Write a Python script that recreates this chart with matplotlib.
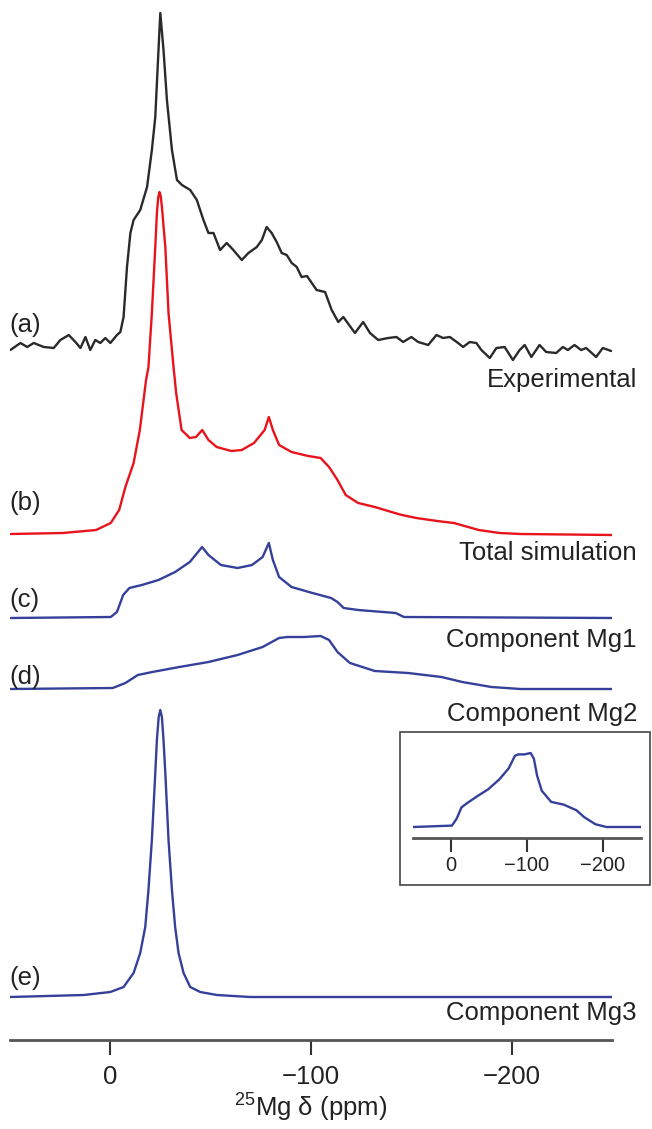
import matplotlib.pyplot as plt
from matplotlib.patches import Rectangle

plt.rcParams['font.family'] = ['Liberation Sans', 'DejaVu Sans']
plt.rcParams['mathtext.fontset'] = 'custom'
plt.rcParams['mathtext.rm'] = 'Liberation Sans'

# ---- data (ppm, intensity in arbitrary units) ----
exp_ppm = [49.8, 44.8, 41.4, 38.2, 33.2, 28.2, 24.9, 20.7, 17.4, 14.9, 12.4, 10.0, 7.5, 5.0,
           2.5, 0.0, -3.3, -5.0, -6.6, -8.3, -10.0, -11.6, -14.9, -18.3, -20.7, -22.4, -24.0,
           -24.9, -26.5, -28.2, -30.7, -33.2, -35.7, -39.8, -43.1, -46.4, -48.9, -51.4, -54.7,
           -58.0, -61.3, -65.5, -68.8, -73.0, -75.5, -77.9, -80.4, -82.9, -85.4, -87.9, -90.4,
           -92.9, -95.3, -98.0, -102.8, -107.0, -110.3, -113.6, -116.1, -121.9, -126.0, -129.4,
           -133.5, -138.5, -142.6, -145.9, -150.0, -153.4, -158.4, -162.5, -165.8, -169.2,
           -173.3, -175.8, -179.1, -182.4, -184.9, -189.1, -192.4, -196.5, -200.6, -204.0,
           -206.5, -209.8, -213.9, -217.2, -222.2, -225.5, -228.0, -231.3, -234.6, -237.1,
           -242.1, -245.4, -249.6]
exp_int = [-2, 5, 1, 5, 1, 0, 8, 13, 6, 0, 11, -2, 8, 5,
           10, 5, 13, 16, 31, 81, 115, 128, 138, 161, 198, 231, 298,
           335, 298, 248, 198, 168, 163, 158, 148, 128, 115, 115, 98,
           105, 98, 88, 95, 101, 108, 121, 115, 106, 95, 93, 85,
           81, 71, 72, 58, 56, 38, 26, 31, 15, 26, 15,
           8, 10, 11, 6, 11, 6, 3, 13, 10, 11,
           5, 1, 6, 5, -2, -10, 0, 1, -12, -2,
           3, -9, 3, -4, -5, 1, -2, 3, -2, 0,
           -9, 0, -3]

tot_ppm = [49.6, 23.6, 7.1, -0.2, -4.4, -7.5, -11.6, -14.7, -17.8, -19.0, -20.7, -22.4, -23.2,
           -23.9, -24.5, -25.1, -25.7, -27.4, -29.0, -31.5, -32.8, -35.5, -39.6, -42.7, -45.8,
           -48.9, -53.0, -60.3, -65.5, -71.6, -76.9, -79.0, -81.0, -84.1, -90.3, -98.6, -104.8,
           -109.0, -113.2, -117.3, -123.5, -131.8, -140.1, -145.3, -152.5, -162.9, -171.2,
           -183.6, -194.0, -204.4, -250.0]
tot_int = [1, 2, 5, 12, 25, 48, 72, 105, 155, 168, 222, 288, 322,
           338, 343, 339, 328, 288, 222, 168, 142, 105, 97, 98, 105,
           95, 88, 84, 85, 92, 105, 118, 105, 90, 83, 79, 77,
           68, 55, 40, 32, 28, 23, 20, 17, 14, 12,
           5, 2, 1, 0]

mg1_ppm = [49.6, -0.2, -3.3, -6.4, -9.5, -15.7, -24.0, -32.3, -39.6, -43.7, -45.7, -48.9, -55.1,
           -63.4, -70.6, -75.9, -79.0, -81.0, -84.1, -90.3, -100.7, -110.0, -113.2, -116.3,
           -123.5, -142.2, -146.3, -250.0]
mg1_int = [0, 1, 6, 23, 30, 33, 38, 46, 56, 66, 71, 63, 53,
           50, 53, 61, 75, 58, 41, 31, 25, 20, 16, 10,
           8, 5, 1, 0]

mg2_ppm = [49.6, -1.2, -7.5, -13.7, -20.9, -34.4, -48.9, -63.4, -75.9, -84.1, -88.3, -96.6, -104.8,
           -109.0, -113.2, -119.4, -131.8, -148.4, -165.0, -175.4, -189.9, -204.4, -250.0]
mg2_int = [0, 1, 6, 14, 17, 22, 27, 34, 42, 51, 52, 52, 53,
           49, 37, 26, 18, 16, 12, 7, 2, 0, 0]

mg3_ppm = [49.8, 13.3, 0.0, -6.6, -11.6, -14.9, -17.4, -19.0, -20.7, -22.4, -23.2, -24.1, -24.9,
           -25.7, -26.5, -27.4, -29.0, -30.7, -32.3, -34.0, -36.5, -39.8, -44.8, -53.1, -69.7,
           -94.5, -250.0]
mg3_int = [0, 2, 5, 10, 24, 44, 70, 107, 157, 224, 257, 280, 287,
           280, 257, 224, 157, 107, 70, 44, 24, 10, 5, 2,
           0, 0, 0]

letters = ['(a)', '(b)', '(c)', '(d)', '(e)']
names = ['Experimental', 'Total simulation', 'Component Mg1', 'Component Mg2', 'Component Mg3']
main_ticks = [0, -100, -200]

# ---- layout (pixel based) ----
W, H = 652, 1129
fig = plt.figure(figsize=(W / 100, H / 100), dpi=100)
fig.patch.set_facecolor('white')

def fx(px):
    return px / W

def fy(py):
    return 1 - py / H

axis_y = 1040
ax = fig.add_axes([fx(10), fy(axis_y), fx(602), axis_y / H])
ax.set_xlim(50, -250)
ax.set_ylim(0, axis_y)

offsets = [692, 505, 422, 351, 43]
colors = ['#2a2a2a', '#e8141c', '#34409a', '#34409a', '#34409a']
series = [(exp_ppm, exp_int), (tot_ppm, tot_int), (mg1_ppm, mg1_int),
          (mg2_ppm, mg2_int), (mg3_ppm, mg3_int)]

for (xs, ys), off, c in zip(series, offsets, colors):
    ax.plot(xs, [v + off for v in ys], color=c, lw=1.7,
            solid_joinstyle='round', solid_capstyle='round')

for s in ['top', 'left', 'right']:
    ax.spines[s].set_visible(False)
ax.spines['bottom'].set_color('#555555')
ax.spines['bottom'].set_linewidth(2.0)
ax.set_yticks([])
ax.set_xticks(main_ticks)
ax.set_xticklabels(['0', '\u2212100', '\u2212200'])
ax.tick_params(axis='x', direction='out', length=11, width=1.5, color='#333333',
               labelsize=18.5, pad=7, labelcolor='#222222')
ax.set_xlabel(r'$^{25}$Mg δ (ppm)', fontsize=18.5, color='#222222', labelpad=1)

# letter labels on the left and names on the right
letter_y = [325, 503, 600, 677, 978]
name_y = [380, 553, 640, 714, 1013]
for lab, yy in zip(letters, letter_y):
    fig.text(fx(9), fy(yy), lab, ha='left', va='center', fontsize=18.5, color='#222222')
for lab, yy in zip(names, name_y):
    fig.text(fx(637), fy(yy), lab, ha='right', va='center', fontsize=18.5, color='#222222')

# inset with magnified Mg2 component
box = Rectangle((fx(400), fy(885)), fx(250), (885 - 732) / H, transform=fig.transFigure,
                fill=False, edgecolor='#444444', lw=1.2)
fig.patches.append(box)

ins = fig.add_axes([fx(413), fy(838), fx(228), 93 / H])
ins.plot(mg2_ppm, mg2_int, color='#34409a', lw=1.7, solid_joinstyle='round')
ins.set_xlim(50, -250)
ins.set_ylim(-11 * 53 / 74, 82 * 53 / 74)
ins.patch.set_alpha(0)
for s in ['top', 'left', 'right']:
    ins.spines[s].set_visible(False)
ins.spines['bottom'].set_color('#555555')
ins.spines['bottom'].set_linewidth(2.0)
ins.set_yticks([])
ins.set_xticks(main_ticks)
ins.set_xticklabels(['0', '\u2212100', '\u2212200'])
ins.tick_params(axis='x', direction='out', length=10, width=1.5, color='#333333',
                labelsize=14.5, pad=3, labelcolor='#222222')

plt.savefig('out.png', dpi=100, facecolor='white')
